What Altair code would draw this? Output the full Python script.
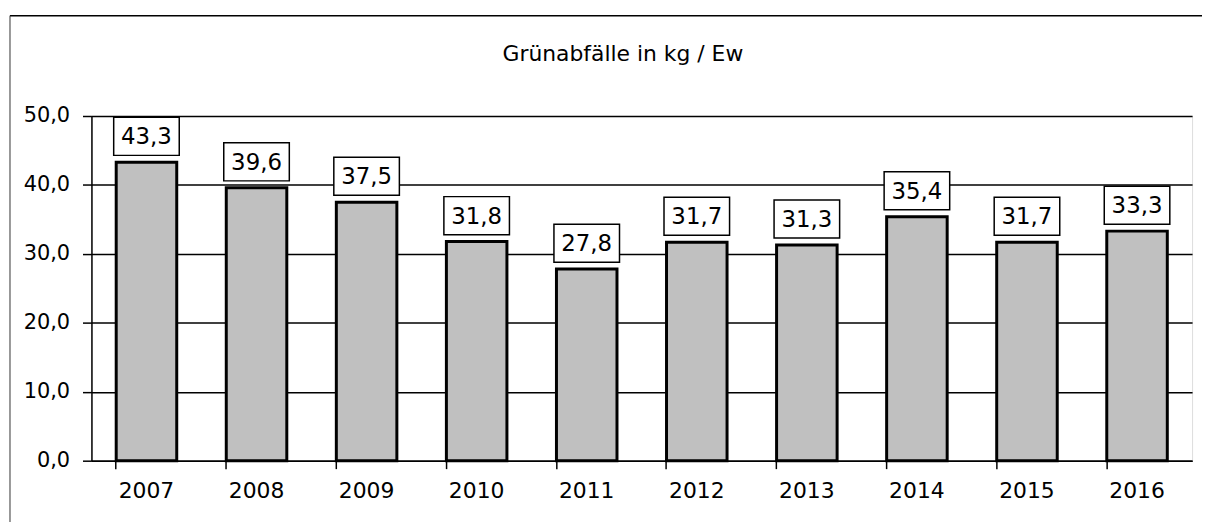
import altair as alt
import pandas as pd

years = ["2007", "2008", "2009", "2010", "2011", "2012", "2013", "2014", "2015", "2016"]
values = [43.3, 39.6, 37.5, 31.8, 27.8, 31.7, 31.3, 35.4, 31.7, 33.3]
labels = ["43,3", "39,6", "37,5", "31,8", "27,8", "31,7", "31,3", "35,4", "31,7", "33,3"]
title_text = "Grünabfälle in kg / Ew"

df = pd.DataFrame({"year": years, "value": values, "label": labels})

FONT = "DejaVu Sans"
W, H = 1108, 347

xenc = alt.X(
    "year:N",
    sort=years,
    title=None,
    scale=alt.Scale(paddingInner=0.45, paddingOuter=0.225),
    axis=alt.Axis(
        labelAngle=0, labelFontSize=22, labelFont=FONT, labelColor="#000",
        tickSize=8, tickColor="#000", tickWidth=1.5, bandPosition=0,
        domainColor="#000", domainWidth=1.5, labelPadding=12, grid=False,
    ),
)
yenc = alt.Y(
    "value:Q",
    title=None,
    scale=alt.Scale(domain=[0, 50], nice=False),
    axis=alt.Axis(
        values=[0, 10, 20, 30, 40, 50], labelFontSize=21, labelFont=FONT, labelColor="#000",
        labelExpr="replace(format(datum.value, '.1f'), '.', ',')",
        tickSize=9, tickColor="#000", tickWidth=1.5, domainColor="#000", domainWidth=1.5,
        labelPadding=13, grid=True, gridColor="#000", gridWidth=1.5,
    ),
)

bars = alt.Chart(df).mark_bar(color="#c0c0c0", stroke="#000", strokeWidth=3).encode(x=xenc, y=yenc)

boxes = alt.Chart(df).mark_point(
    shape="M-1,-0.58H1V0.58H-1Z", filled=True, fill="white", stroke="#000",
    strokeWidth=1.5, size=4356, opacity=1, yOffset=-26,
).encode(x=alt.X("year:N", sort=years), y="value:Q")

texts = alt.Chart(df).mark_text(
    font=FONT, fontSize=23, color="#000", baseline="middle", align="center", yOffset=-25,
).encode(x=alt.X("year:N", sort=years), y="value:Q", text="label:N")

one = pd.DataFrame({"t": [title_text]})
title_mark = alt.Chart(one).mark_text(
    font=FONT, fontSize=22, color="#000", baseline="middle", align="center",
).encode(x=alt.value(535), y=alt.value(-62), text="t:N")

top_border = alt.Chart(one).mark_rule(color="#000", strokeWidth=1.5).encode(
    x=alt.value(-82), x2=alt.value(W + 20), y=alt.value(-101)
)
left_border = alt.Chart(one).mark_rule(color="#333", strokeWidth=1).encode(
    x=alt.value(-82), y=alt.value(-101), y2=alt.value(H + 80)
)

chart = alt.layer(bars, boxes, texts, title_mark, top_border, left_border).properties(
    width=W, height=H,
    autosize=alt.AutoSizeParams(type="none"),
    padding={"left": 84, "top": 107, "right": 10, "bottom": 60},
).configure_view(stroke="#000", strokeWidth=1.5).configure(background="white")

chart.save("out.html", embed_options={"renderer": "svg", "actions": False})
